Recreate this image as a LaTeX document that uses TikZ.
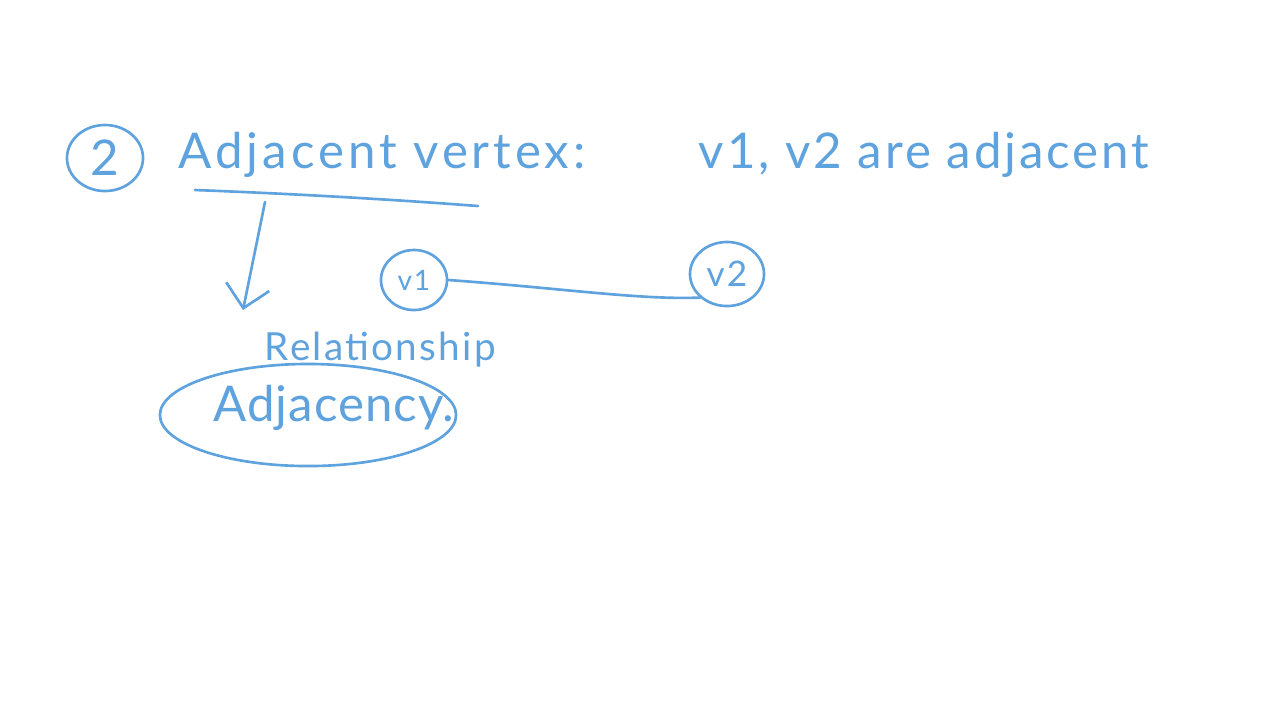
\documentclass[tikz,border=0pt]{standalone}
\usepackage{fontspec}
\setmainfont{Lato}
\usetikzlibrary{positioning,arrows.meta,shapes.geometric}
\definecolor{ink}{RGB}{94,162,222}

\begin{document}
\begin{tikzpicture}[x=0.01cm,y=-0.01cm,
  pen/.style={ink,line width=0.75pt,line cap=round,line join=round},
  hand/.style 2 args={text=ink,inner sep=0pt,font=\fontsize{#1}{#1}\selectfont\addfontfeature{LetterSpace=#2}},
  ring/.style={pen,draw,ellipse,inner sep=0pt}]
  % Sheet
  \fill[white] (0,0) rectangle (1280,720);
  \useasboundingbox (0,0) rectangle (1280,720);

  % Heading
  \node[ring,hand={14}{0},minimum width=0.76cm,minimum height=0.66cm] (num) at (105,158) {2};
  \node[hand={14}{8},anchor=west] (title) at (178,155) {Adjacent vertex:};
  \node[hand={14}{6},anchor=west] (claim) at (698,155) {v1, v2 are adjacent};
  \coordinate (ul1) at (195,190);
  \coordinate (ul2) at (478,206);
  \draw[pen] (ul1) .. controls (300,194) and (400,200) .. (ul2);

  % Vertices
  \node[ring,hand={8}{6},minimum width=0.66cm,minimum height=0.6cm] (v1) at (414,280) {v1};
  \node[ring,hand={10}{6},minimum width=0.74cm,minimum height=0.64cm] (v2) at (727,274) {v2};
  \draw[pen] (v1.east) .. controls (560,288) and (640,300) .. (v2.south west);

  % Relationship
  \coordinate (arrtop) at (265,202);
  \coordinate (arrtip) at (243,310);
  \draw[pen,-{Straight Barb[length=2.2mm,width=4.4mm]}] (arrtop) -- (arrtip);
  \node[hand={11}{6},anchor=west] (rel) at (264,350) {Relationship};
  \node[hand={14}{2}] (adj) at (334,408) {Adjacency.};
  \node[ring,minimum width=2.96cm,minimum height=1.02cm] (adjring) at (308,415) {};
\end{tikzpicture}
\end{document}
